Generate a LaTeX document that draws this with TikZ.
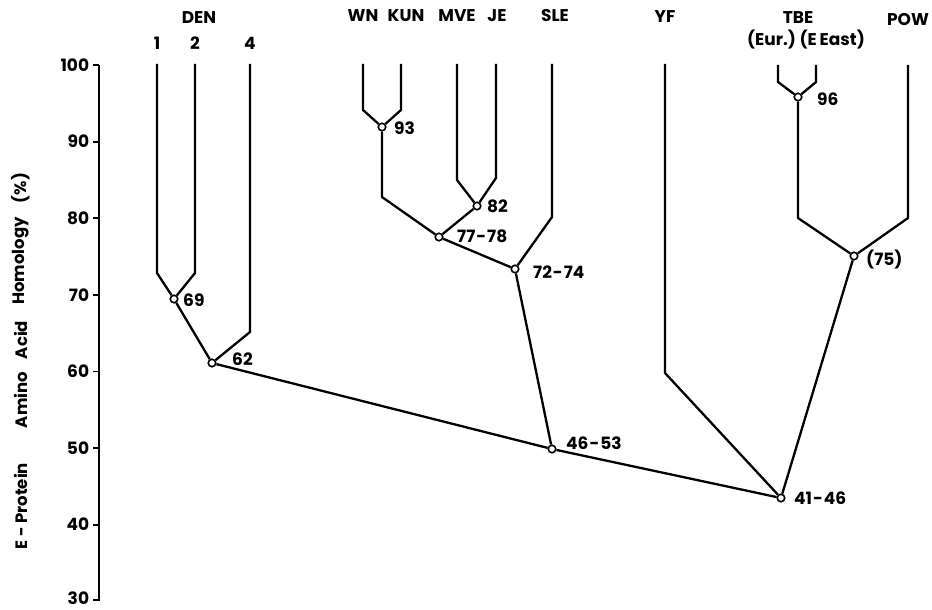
\documentclass[tikz,border=0pt]{standalone}
\usepackage{fontspec}
\setmainfont{Poppins}
\begin{document}
\begin{tikzpicture}[x=1pt,y=-1pt,
  line join=miter, line cap=butt,
  br/.style={line width=2.3pt},
  jn/.style={circle, draw, fill=white, line width=1.6pt, inner sep=0pt, minimum size=7.5pt},
  lab/.style={font=\fontsize{17}{18}\selectfont\bfseries, inner sep=0pt},
  nlab/.style={lab, anchor=west},
  tlab/.style={lab, anchor=east},
  ylab/.style={font=\fontsize{16.5}{18}\selectfont\bfseries, inner sep=0pt, rotate=90}]
\useasboundingbox (0,0) rectangle (932,610);
% axis
\coordinate (axtop) at (99,65);
\coordinate (axbot) at (99,601);
\draw[line width=2.2pt] (axtop) -- (axbot);
\foreach \v/\yy/\dy in {100/65/0,90/141.6/0,80/218.2/0,70/294.8/0,60/371.4/0,50/448/0,40/524.6/0,30/600.2/2.5}{
  \coordinate (t\v) at (99,\yy);
  \draw[line width=1.8pt] (t\v) -- ++(-6,0) node[tlab, xshift=-3pt, yshift=\dy pt] (tl\v) {\v};
}
% y-axis label
\node[ylab] (yl1) at (21,506) {E - Protein};
\node[ylab] (yl2) at (21,400) {Amino};
\node[ylab] (yl3) at (21,340) {Acid};
\node[ylab] (yl4) at (21,261) {Homology};
\node[ylab] (yl5) at (21,188) {(\%)};
% top labels
\node[lab] (lden) at (199,18) {DEN};
\node[lab] (l1) at (157,43) {1};
\node[lab] (l2) at (195,43) {2};
\node[lab] (l4) at (250,43) {4};
\node[lab] (lwn) at (363,16) {WN};
\node[lab] (lkun) at (406,16) {KUN};
\node[lab] (lmve) at (457,16) {MVE};
\node[lab] (lje) at (497,16) {JE};
\node[lab] (lsle) at (555,16) {SLE};
\node[lab] (lyf) at (665,17) {YF};
\node[lab] (ltbe) at (798,18) {TBE};
\node[lab] (ltbe2) at (806,40) {(Eur.)\ (E\,East)};
\node[lab] (lpow) at (908,20) {POW};
% leaf tops and bends
\coordinate (d1) at (157,64);  \coordinate (d1b) at (157,273);
\coordinate (d2) at (195,64);  \coordinate (d2b) at (195,273);
\coordinate (d4) at (250,64);  \coordinate (d4b) at (250,332);
\coordinate (wn) at (363,64);  \coordinate (wnb) at (363,110);
\coordinate (kun) at (401,64); \coordinate (kunb) at (401,110);
\coordinate (mve) at (457,64); \coordinate (mveb) at (457,180);
\coordinate (je) at (496,64);  \coordinate (jeb) at (496,178);
\coordinate (sle) at (552,64); \coordinate (sleb) at (552,217);
\coordinate (yf) at (665,64);  \coordinate (yfb) at (665,373);
\coordinate (te) at (778,65);  \coordinate (teb) at (778,82);
\coordinate (tf) at (816,65);  \coordinate (tfb) at (816,82);
\coordinate (pw) at (908,65);  \coordinate (pwb) at (908,218);
\coordinate (b93) at (382,197);
\coordinate (b96) at (798,218);
% junctions
\node[jn] (n69) at (174,299) {};
\node[jn] (n62) at (212,363) {};
\node[jn] (n93) at (382,127) {};
\node[jn] (n82) at (477,206) {};
\node[jn] (n77) at (439,237) {};
\node[jn] (n72) at (515,269) {};
\node[jn] (n46) at (552,449) {};
\node[jn] (n96) at (798,97) {};
\node[jn] (n75) at (854,256) {};
\node[jn] (n41) at (781,498) {};
% branches
\draw[br] (d1) -- (d1b) -- (n69);
\draw[br] (d2) -- (d2b) -- (n69);
\draw[br] (d4) -- (d4b) -- (n62);
\draw[br] (n69) -- (n62);
\draw[br] (wn) -- (wnb) -- (n93);
\draw[br] (kun) -- (kunb) -- (n93);
\draw[br] (n93) -- (b93) -- (n77);
\draw[br] (mve) -- (mveb) -- (n82);
\draw[br] (je) -- (jeb) -- (n82);
\draw[br] (n82) -- (n77);
\draw[br] (n77) -- (n72);
\draw[br] (sle) -- (sleb) -- (n72);
\draw[br] (n72) -- (n46);
\draw[br] (n62) -- (n46);
\draw[br] (yf) -- (yfb) -- (n41);
\draw[br] (te) -- (teb) -- (n96);
\draw[br] (tf) -- (tfb) -- (n96);
\draw[br] (n96) -- (b96) -- (n75);
\draw[br] (pw) -- (pwb) -- (n75);
\draw[br] (n75) -- (n41);
\draw[br] (n46) -- (n41);
% junction labels
\node[nlab] (v69) at (183,300) {69};
\node[nlab] (v62) at (232,359) {62};
\node[nlab] (v93) at (394,128) {93};
\node[nlab] (v82) at (487,206.5) {82};
\node[nlab] (v77) at (457,236) {77\kern1pt-\kern1pt78};
\node[nlab] (v72) at (533,272) {72\kern1pt-\kern1pt74};
\node[nlab] (v46) at (566,443.5) {46\kern1pt-\kern1pt53};
\node[nlab] (v96) at (817,99) {96};
\node[nlab] (v75) at (866,260) {(75)};
\node[nlab] (v41) at (794,498.5) {41\kern1pt-\kern1pt46};
\end{tikzpicture}
\end{document}
